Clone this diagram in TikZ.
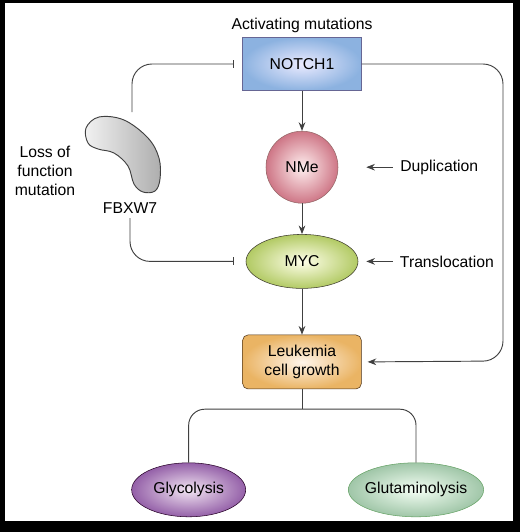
\documentclass[tikz,border=0pt]{standalone}
\usepackage{fontspec}
\setmainfont{Liberation Sans}
\usepackage{tikz}
\usetikzlibrary{shapes.geometric, arrows.meta, calc, positioning}
\newcommand{\figfont}{\fontsize{11.8}{14}\selectfont}
\tikzstyle{notchbox} = [rectangle, minimum width=89pt, minimum height=40pt, text centered,
draw=black!70!blue!60, shading=radial, inner color=blue!8!white, outer color={rgb,255:red,140;green,178;blue,224}]
\tikzstyle{nmecircle} = [circle, minimum size=54pt, inner sep=0pt, draw=black!70!red!60,
shading=radial, inner color=red!6!white, outer color={rgb,255:red,206;green,118;blue,134}]
\tikzstyle{mycellipse} = [ellipse, minimum width=84pt, minimum height=40.5pt, inner sep=0pt,
draw=black!75!olive, shading=radial, inner color=yellow!8!white, outer color={rgb,255:red,178;green,202;blue,100}]
\tikzstyle{leukbox} = [rectangle, rounded corners=4pt, minimum width=89pt, minimum height=40.5pt,
text centered, align=center, draw=black!60!brown, shading=radial, inner color=orange!8!white,
outer color={rgb,255:red,234;green,180;blue,100}]
\tikzstyle{glycoellipse} = [ellipse, minimum width=85.5pt, minimum height=40.5pt, inner sep=0pt,
draw=black!70!violet, shading=radial, inner color=violet!10!white, outer color={rgb,255:red,148;green,96;blue,168}]
\tikzstyle{glutaellipse} = [ellipse, minimum width=100.5pt, minimum height=40.5pt, inner sep=0pt,
inner xsep=-2.5pt, draw=black!60!green!60, shading=radial, inner color=green!4!white,
outer color={rgb,255:red,160;green,198;blue,168}]
\tikzstyle{line} = [draw=black!75, line width=0.7pt]
\tikzstyle{arrow} = [line, -{Stealth[length=6.5pt, width=5pt]}]
\tikzstyle{inhibit} = [line, -{Bar[width=6pt]}]

\begin{document}
\begin{tikzpicture}[x=0.75pt, y=-0.75pt, font=\figfont]
  % frame
  \fill [black] (0,0) rectangle (520,532);
  \fill [white] (5,3) rectangle (513,521);

  \node (notch) [notchbox, label={[label distance=0pt]above:Activating mutations}] at (302,64) {NOTCH1};
  \node (nme) [nmecircle, below=30pt of notch] {NMe};
  \node (myc) [mycellipse, below=23pt of nme] {MYC};
  \node (leuk) [leukbox, below=34.5pt of myc] {Leukemia\\cell growth};
  \node (glyco) [glycoellipse, below=55pt of leuk, xshift=-85pt] {Glycolysis};
  \node (gluta) [glutaellipse, below=55pt of leuk, xshift=85.5pt] {Glutaminolysis};

  \node (dup) [right=43pt of nme] {Duplication};
  \node (trans) [right=27.75pt of myc] {Translocation};

  % FBXW7
  \draw [draw=black!75, line width=0.7pt, left color=white!95!black, right color=black!32]
    plot [smooth cycle, tension=0.6] coordinates {(88,143) (86,128) (99,117) (124,120) (148,138)
    (159,158) (160,179) (155,191) (143,192) (134,184) (128,166) (114,153) (98,149)};
  \node (fbxw7) at (130,208) {FBXW7};
  \node (loss) [align=center] at (45,171) {Loss of\\function\\mutation};
  \coordinate (fbtop) at (132,112);
  \coordinate (rightc) at (503,361);
  \coordinate (branch) at ($(leuk.south)+(0,-15pt)$);

  \draw [arrow] (notch) -- (nme);
  \draw [arrow] (nme) -- (myc);
  \draw [arrow] (myc) -- (leuk);
  \draw [arrow, shorten >=21pt, shorten <=2pt] (dup.west) -- (nme.east);
  \draw [arrow, shorten >=6pt, shorten <=2pt] (trans.west) -- (myc.east);
  \draw [inhibit, rounded corners=15pt, shorten >=6pt] (fbtop) |- (notch.west);
  \draw [inhibit, rounded corners=15pt, shorten >=9pt] (fbxw7.south) |- (myc.west);
  \draw [arrow, rounded corners=15pt, shorten >=4.5pt] (notch.east) -| (rightc) -- (leuk.east);
  \draw [line] (leuk.south) -- (branch);
  \draw [line, rounded corners=12pt] (glyco.north) |- (branch) -| (gluta.north);
\end{tikzpicture}
\end{document}
